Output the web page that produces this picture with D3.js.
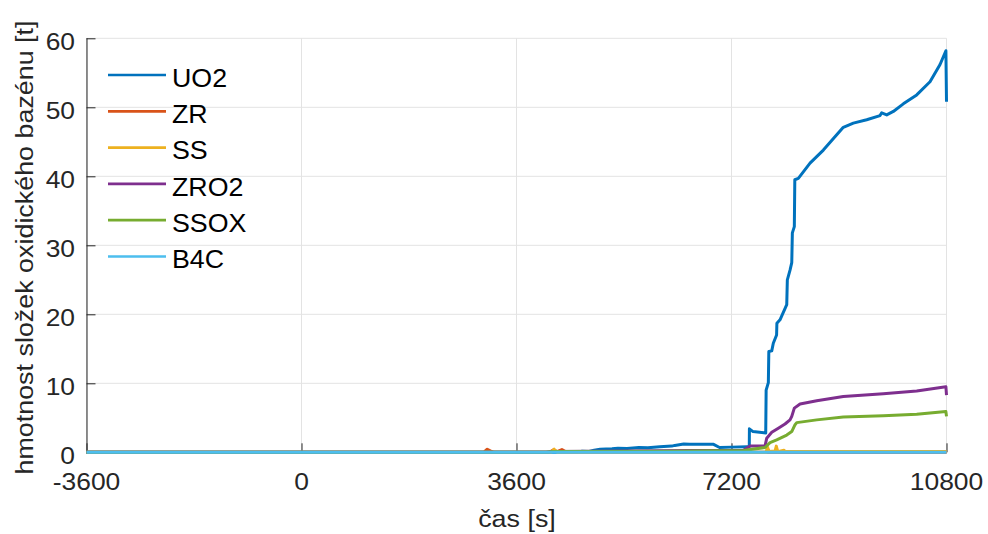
<!DOCTYPE html>
<html>
<head>
<meta charset="utf-8">
<script src="https://cdn.jsdelivr.net/npm/d3@7"></script>
<style>
  html, body { margin: 0; padding: 0; background: #fff; }
  svg { display: block; font-family: "Liberation Sans", Arial, sans-serif; }
</style>
</head>
<body>
<svg id="chart" width="988" height="534"></svg>
<script>
// Mass of the oxidic pool components over time, [time s, mass t]
const uo2 = [[-3600,0],[4600,0],[4700,0.15],[4800,0.1],[4900,0.3],[5000,0.45],[5200,0.5],[5300,0.6],[5450,0.55],
  [5650,0.7],[5800,0.65],[6000,0.8],[6200,0.9],[6250,1.0],[6400,1.2],[6500,1.15],[6900,1.15],[7000,0.7],[7200,0.75],
  [7460,0.8],[7498,0.8],[7500,3.4],[7560,3.0],[7773,2.8],[7780,9.0],[7817,10.1],[7825,14.6],[7874,14.7],[7900,15.8],
  [7955,17.0],[7960,18.7],[8012,19.2],[8125,21.4],[8135,25.0],[8180,26.4],[8209,27.5],[8219,31.8],[8252,32.7],
  [8260,39.5],[8319,39.7],[8515,41.9],[8738,43.8],[9072,47.1],[9240,47.7],[9464,48.2],[9687,48.8],[9715,49.2],
  [9799,48.9],[9910,49.4],[10077,50.5],[10301,51.8],[10524,53.7],[10692,56.2],[10790,58.2],[10800,50.8]];
const zr = [[-3600,0],[3050,0],[3110,0.45],[3160,0.2],[3230,0],[4150,0],[4220,0.35],[4280,0.1],[4360,0.4],
  [4420,0.1],[4500,0],[10800,0]];
const ss = [[-3600,0],[4180,0],[4230,0.45],[4280,0],[7780,0],[7800,0.8],[7830,0.1],[7930,0.2],[7950,0.9],
  [7975,0.1],[8080,0.3],[8100,0.1],[10800,0.1]];
const zro2 = [[-3600,0],[4100,0],[4200,0.1],[5000,0.15],[6500,0.25],[7400,0.3],[7510,0.9],[7761,0.9],[7790,2.05],
  [7874,2.9],[7984,3.5],[8096,4.1],[8180,4.7],[8209,5.2],[8252,6.4],[8348,7.0],[8627,7.46],[9072,8.1],[9742,8.5],
  [10301,8.9],[10790,9.5],[10800,8.3]];
const ssox = [[-3600,0],[4100,0],[4200,0.1],[6000,0.15],[7400,0.25],[7761,0.7],[7845,1.4],[7957,1.8],[8125,2.5],
  [8209,3.0],[8264,4.0],[8292,4.3],[8627,4.7],[9072,5.1],[9742,5.3],[10301,5.5],[10790,5.9],[10800,5.2]];
const b4c = [[-3600,0],[10800,0]];

const seriesNames = ["UO2", "ZR", "SS", "ZRO2", "SSOX", "B4C"];
const seriesData = [uo2, zr, ss, zro2, ssox, b4c];
const seriesColors = ["#0072BD", "#D95319", "#EDB120", "#7E2F8E", "#77AC30", "#4DBEEE"];

const xTicks = [-3600, 0, 3600, 7200, 10800];
const yTicks = [0, 10, 20, 30, 40, 50, 60];
const xTitle = "čas [s]";
const yTitle = "hmotnost složek oxidického bazénu [t]";

const svg = d3.select("#chart");
const pLeft = 86.5, pRight = 946.5, pTop = 38.3, pBottom = 452.3;
const x = d3.scaleLinear().domain([-3600, 10800]).range([pLeft, pRight]);
const y = d3.scaleLinear().domain([0, 60]).range([pBottom, pTop]);

// grid
const grid = svg.append("g").attr("stroke", "#e3e3e3").attr("stroke-width", 1);
xTicks.forEach(t => grid.append("line").attr("x1", x(t)).attr("x2", x(t)).attr("y1", pTop).attr("y2", pBottom));
yTicks.forEach(t => grid.append("line").attr("x1", pLeft).attr("x2", pRight).attr("y1", y(t)).attr("y2", y(t)));

// axes with inward ticks
const xAxis = d3.axisBottom(x).tickValues(xTicks).tickSize(-9).tickFormat("");
const yAxis = d3.axisLeft(y).tickValues(yTicks).tickSize(-9).tickFormat("");
const gx = svg.append("g").attr("transform", `translate(0,${pBottom})`).call(xAxis);
const gy = svg.append("g").attr("transform", `translate(${pLeft},0)`).call(yAxis);
[gx, gy].forEach(g => {
  g.selectAll("path").attr("stroke", "#262626").attr("stroke-width", 1);
  g.selectAll("line").attr("stroke", "#262626").attr("stroke-width", 1);
});
gx.select(".domain").attr("d", `M${pLeft},0.5H${pRight}`);
gy.select(".domain").attr("d", `M0.5,${pBottom - pTop + pTop}V${pTop}`);

// tick labels
xTicks.forEach(t => svg.append("text")
  .attr("transform", `translate(${x(t)},490) scale(1.1,1)`)
  .attr("text-anchor", "middle").attr("font-size", 24).attr("fill", "#262626").text(t));
yTicks.forEach(t => svg.append("text")
  .attr("transform", `translate(75,${y(t) + 12}) scale(1.1,1)`)
  .attr("text-anchor", "end").attr("font-size", 24).attr("fill", "#262626").text(t));

// axis titles
svg.append("text").attr("transform", "translate(517,527) scale(1.12,1)")
  .attr("text-anchor", "middle").attr("font-size", 24).attr("fill", "#262626").text(xTitle);
svg.append("text").attr("transform", "translate(33,247.5) rotate(-90) scale(1.12,1)")
  .attr("text-anchor", "middle").attr("font-size", 24).attr("fill", "#262626").text(yTitle);

// series lines
const line = d3.line().x(d => x(d[0])).y(d => y(d[1]));
const plot = svg.append("g");
seriesData.forEach((d, i) => plot.append("path").datum(d)
  .attr("d", line).attr("fill", "none").attr("stroke", seriesColors[i])
  .attr("stroke-width", 3).attr("stroke-linejoin", "round"));

// legend
const legend = svg.append("g");
seriesNames.forEach((name, i) => {
  const ly = 75 + i * 36.3;
  legend.append("line").attr("x1", 108).attr("x2", 166).attr("y1", ly).attr("y2", ly)
    .attr("stroke", seriesColors[i]).attr("stroke-width", 2.7);
  legend.append("text").attr("transform", `translate(172,${ly + 11.7}) scale(1.05,1)`)
    .attr("font-size", 25.5).attr("fill", "#000").text(name);
});
</script>
</body>
</html>
